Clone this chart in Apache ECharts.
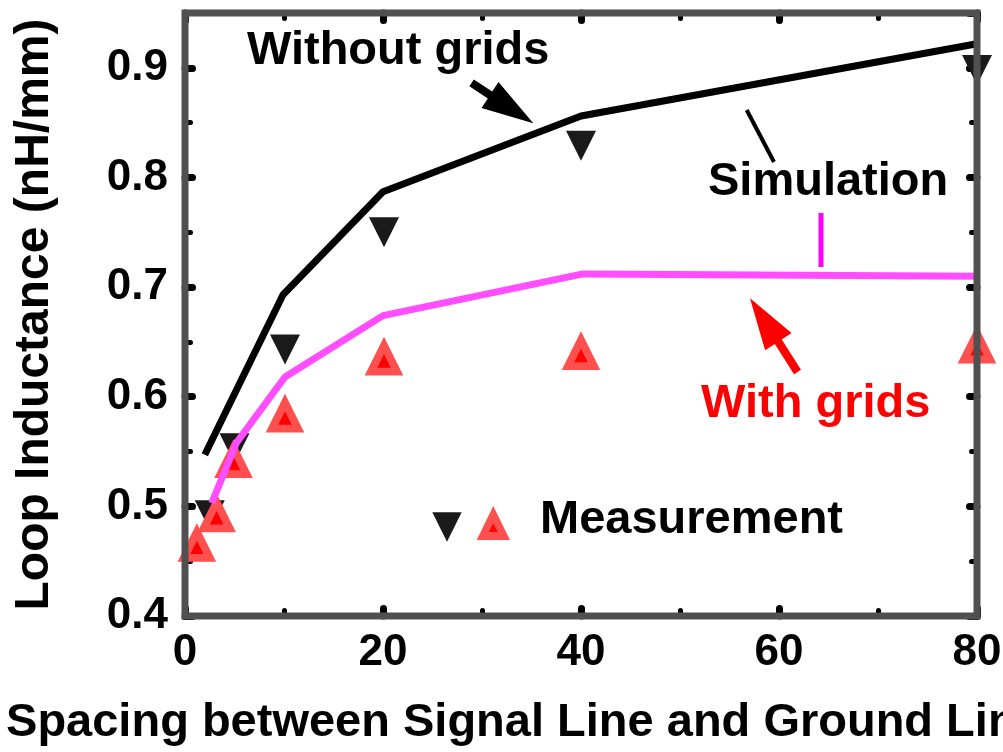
<!DOCTYPE html>
<html><head><meta charset="utf-8">
<script src="https://cdn.jsdelivr.net/npm/echarts@6/dist/echarts.min.js"></script>
<style>html,body{margin:0;padding:0;background:#fff}#c{width:1003px;height:752px}</style>
</head><body><div id="c"></div>
<script>
// ---- data ----
const xTickLabels = ['0','20','40','60','80'];
const yTickLabels = ['0.4','0.5','0.6','0.7','0.8','0.9'];
const simWithoutX = [2, 4.7, 9.9, 20, 40, 80];
const simWithoutY = [0.547, 0.597, 0.693, 0.787, 0.856, 0.922];
const simWithX = [2.7, 5.2, 10.1, 20, 40.2, 80];
const simWithY = [0.503, 0.558, 0.618, 0.674, 0.712, 0.710];
const measWithoutX = [2.5, 5, 10.1, 20.1, 40, 80];
const measWithoutY = [0.492, 0.553, 0.643, 0.750, 0.829, 0.898];
const measWithX = [1.2, 3.2, 4.9, 10.1, 20.1, 40, 80];
const measWithY = [0.467, 0.494, 0.5435, 0.585, 0.637, 0.642, 0.648];

const zip = (a, b) => a.map((v, i) => [v, b[i]]);
const FF = '"Liberation Sans", Arial, sans-serif';
const font = (s) => 'bold ' + s + 'px ' + FF;

const chart = echarts.init(document.getElementById('c'), null, {renderer: 'canvas'});

const tickMajor = {show: true, inside: true, length: 7.5, lineStyle: {color: '#000', width: 7, cap: 'round'}};
const tickMinor = {show: true, inside: true, length: 5.5, lineStyle: {color: '#000', width: 5, cap: 'round'}};

function xAx(pos, interval, ticks, labels, extra) {
  return Object.assign({
    type: 'value', position: pos, min: 0, max: 80, interval: interval,
    axisLine: {show: false, onZero: false}, axisTick: ticks,
    axisLabel: labels ? {show: true, fontSize: 44, fontWeight: 'bold', color: '#000', fontFamily: FF, margin: 15,
      formatter: v => xTickLabels.indexOf(String(v)) >= 0 ? String(v) : ''} : {show: false},
    splitLine: {show: false}
  }, extra || {});
}
function yAx(pos, interval, ticks, labels, extra) {
  return Object.assign({
    type: 'value', position: pos, min: 0.4, max: 0.95, interval: interval,
    axisLine: {show: false, onZero: false}, axisTick: ticks,
    axisLabel: labels ? {show: true, fontSize: 44, fontWeight: 'bold', color: '#000', fontFamily: FF, margin: 17,
      showMaxLabel: false,
      formatter: v => { const s = (Math.round(v * 100) / 100).toFixed(1); return yTickLabels.indexOf(s) >= 0 && Math.abs(v - parseFloat(s)) < 1e-6 ? s : ''; }} : {show: false},
    splitLine: {show: false}
  }, extra || {});
}

const option = {
  backgroundColor: '#fff',
  animation: false,
  grid: {left: 185, right: 26, top: 13, bottom: 136, show: true, borderColor: '#505050', borderWidth: 7,
    backgroundColor: 'transparent', z: 10, outerBoundsMode: 'none', containLabel: false},
  xAxis: [
    xAx('bottom', 20, tickMajor, true, {
      name: 'Spacing between Signal Line and Ground Line (\u00b5m)', nameLocation: 'middle', nameGap: 84,
      nameTextStyle: {fontSize: 47, fontWeight: 'bold', color: '#000', fontFamily: FF}}),
    xAx('bottom', 10, tickMinor, false),
    xAx('top', 20, tickMajor, false),
    xAx('top', 10, tickMinor, false)
  ],
  yAxis: [
    yAx('left', 0.1, tickMajor, true, {
      name: 'Loop Inductance (nH/mm)', nameLocation: 'middle', nameGap: 126,
      nameTextStyle: {fontSize: 48, fontWeight: 'bold', color: '#000', fontFamily: FF}}),
    yAx('left', 0.05, tickMinor, false),
    yAx('right', 0.1, tickMajor, false),
    yAx('right', 0.05, tickMinor, false)
  ],
  series: [
    {name: 'Without grids (measurement)', type: 'scatter', z: 2,
     data: zip(measWithoutX, measWithoutY),
     symbol: 'path://M0,0L30,0L15,30Z', symbolSize: [30, 30],
     itemStyle: {color: '#1a1a1a', opacity: 1}},
    {name: 'With grids (measurement)', type: 'scatter', z: 2,
     data: zip(measWithX, measWithY),
     symbol: 'triangle', symbolSize: [26, 26], symbolOffset: [0, 2.4],
     itemStyle: {color: '#ff0000', borderColor: '#ff5050', borderWidth: 7.8, borderJoin: 'miter', opacity: 1}},
    {name: 'Without grids (simulation)', type: 'line', z: 3,
     data: zip(simWithoutX, simWithoutY), showSymbol: false, symbol: 'none',
     lineStyle: {color: '#000', width: 7}},
    {name: 'With grids (simulation)', type: 'line', z: 3,
     data: zip(simWithX, simWithY), showSymbol: false, symbol: 'none',
     lineStyle: {color: '#ff4dff', width: 7}}
  ],
  graphic: [
    {type: 'text', z: 20, style: {text: 'Without grids', x: 247, y: 51, font: font(47), fill: '#000', verticalAlign: 'middle', align: 'left'}},
    {type: 'text', z: 20, style: {text: 'Simulation', x: 708, y: 182.5, font: font(47), fill: '#000', verticalAlign: 'middle', align: 'left'}},
    {type: 'text', z: 20, style: {text: 'With grids', x: 701, y: 404, font: font(47), fill: '#ff0000', verticalAlign: 'middle', align: 'left'}},
    {type: 'text', z: 20, style: {text: 'Measurement', x: 540, y: 520.5, font: font(47), fill: '#000', verticalAlign: 'middle', align: 'left'}},
    {type: 'polygon', z: 20, shape: {points: [[473.8,79.5],[492.2,91.6],[498.5,82.0],[533.3,123.3],[481.5,108.0],[487.8,98.4],[469.4,86.3]]}, style: {fill: '#000'}},
    {type: 'polygon', z: 20, shape: {points: [[801.0,369.7],[781.8,339.4],[791.5,333.1],[750,298.3],[765.1,350.3],[774.8,344.0],[794.0,374.3]]}, style: {fill: '#ff0000'}},
    {type: 'line', z: 20, shape: {x1: 746.7, y1: 110, x2: 774, y2: 162}, style: {stroke: '#000', lineWidth: 4}},
    {type: 'line', z: 20, shape: {x1: 821, y1: 213, x2: 821, y2: 267}, style: {stroke: '#ff00ff', lineWidth: 5}},
    {type: 'polygon', z: 20, shape: {points: [[432.3,512.3],[461.7,512.3],[447,541.7]]}, style: {fill: '#1a1a1a'}},
    {type: 'polygon', z: 20, shape: {points: [[476.7,540],[510,540],[493.3,506]]}, style: {fill: '#ff5050'}},
    {type: 'polygon', z: 21, shape: {points: [[488.8,532],[497.8,532],[493.3,523.5]]}, style: {fill: '#ff0000'}}
  ]
};
chart.setOption(option);
</script>
</body></html>
